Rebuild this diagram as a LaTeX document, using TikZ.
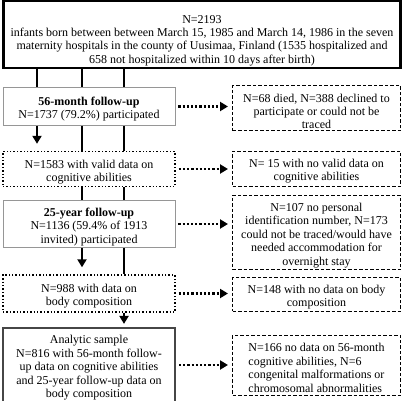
\documentclass[tikz,border=0pt]{standalone}
\usepackage{fontspec}
\setmainfont{Liberation Serif}
\usetikzlibrary{arrows.meta,positioning}
\definecolor{framecol}{RGB}{150,150,150}
\definecolor{finalcol}{RGB}{70,70,70}
\newcommand{\boxgap}[1][14pt]{\rule{0pt}{#1}}

\begin{document}
\begin{tikzpicture}[
    x=1pt, y=-1pt,
    >={Triangle[length=8pt, width=9pt]},
    every node/.style={font=\fontsize{12}{13.4}\selectfont, align=center, inner sep=2pt},
    topbox/.style={rectangle, draw, line width=2.2pt, minimum width=397pt, minimum height=65pt},
    stagebox/.style={rectangle, draw=framecol, line width=0.8pt, minimum width=172pt},
    dotbox/.style={rectangle, draw, dotted, line width=1.4pt, minimum width=172pt},
    finalbox/.style={rectangle, draw=finalcol, line width=2pt, minimum width=172pt},
    lossbox/.style={rectangle, draw, dash pattern=on 3.5pt off 2pt, line width=1pt, minimum width=168pt},
    trunk/.style={line width=2.6pt},
    downarrow/.style={->, line width=2.6pt},
    lossarrow/.style={->, dotted, line width=2.2pt, shorten <=3pt, shorten >=4pt},
]
\useasboundingbox (0,0) rectangle (404,401);

% columns of the trunk lines
\coordinate (c1) at (37,0);
\coordinate (c2) at (82,0);
\coordinate (c3) at (124,0);

% left column
\node[topbox] (top) at (202,34.5) {\boxgap[20pt]N=2193\\infants born between between March 15, 1985 and March 14, 1986 in the seven\\maternity hospitals in the county of Uusimaa, Finland (1535 hospitalized and\\658 not hospitalized within 10 days after birth)};
\node[stagebox, minimum height=38pt] (m56) at (89,106.5) {\boxgap\textbf{56-month follow-up}\\N=1737 (79.2\%) participated};
\node[dotbox, minimum height=35pt] (cog) at (89,169) {\boxgap N=1583 with valid data on\\cognitive abilities};
\node[stagebox, minimum height=46pt] (y25) at (89,224) {\boxgap\textbf{25-year follow-up}\\N=1136 (59.4\% of 1913\\invited) participated};
\node[dotbox, minimum height=37pt] (body) at (89,293.5) {\boxgap N=988 with data on\\body composition};
\node[finalbox, minimum height=69pt] (final) at (89,365) {\boxgap Analytic sample\\N=816 with 56-month follow-\\up data on cognitive abilities\\and 25-year follow-up data on\\body composition};

% right column
\node[lossbox, minimum height=45pt] (r1) at (316.5,108.5) {\boxgap N=68 died, N=388 declined to\\participate or could not be\\traced};
\node[lossbox, minimum height=35pt] (r2) at (316.5,168.5) {\boxgap N= 15 with no valid data on\\cognitive abilities};
\node[lossbox, minimum height=71pt] (r3) at (316.5,232.5) {\boxgap N=107 no personal\\identification number, N=173\\could not be traced/would have\\needed accommodation for\\overnight stay};
\node[lossbox, minimum height=32pt] (r4) at (316.5,294.5) {\boxgap N=148 with no data on body\\composition};
\node[lossbox, minimum height=60pt, align=left] (r5) at (316.5,365) {\boxgap N=166 no data on 56-month\\cognitive abilities, N=6\\congenital malformations or\\chromosomal abnormalities};

% trunk lines
\draw[trunk] (top.south -| c1) -- (m56.north -| c1);
\draw[trunk] (top.south -| c2) -- (m56.north -| c2);
\draw[trunk] (top.south -| c3) -- (m56.north -| c3);
\draw[downarrow, shorten >=7pt] (m56.south -| c1) -- (cog.north -| c1);
\draw[trunk] (m56.south -| c2) -- (cog.north -| c2);
\draw[trunk] (m56.south -| c3) -- (cog.north -| c3);
\draw[trunk] (cog.south -| c2) -- (y25.north -| c2);
\draw[trunk] (cog.south -| c3) -- (y25.north -| c3);
\draw[downarrow, shorten >=7pt] (y25.south -| c2) -- (body.north -| c2);
\draw[trunk] (y25.south -| c3) -- (body.north -| c3);
\draw[downarrow, shorten >=3pt] (body.south -| c3) -- (final.north -| c3);

% exclusions
\foreach \a/\b in {m56/r1, cog/r2, y25/r3, body/r4, final/r5}
    \draw[lossarrow] (\a.east) -- (\a.east -| \b.west);
\end{tikzpicture}
\end{document}
